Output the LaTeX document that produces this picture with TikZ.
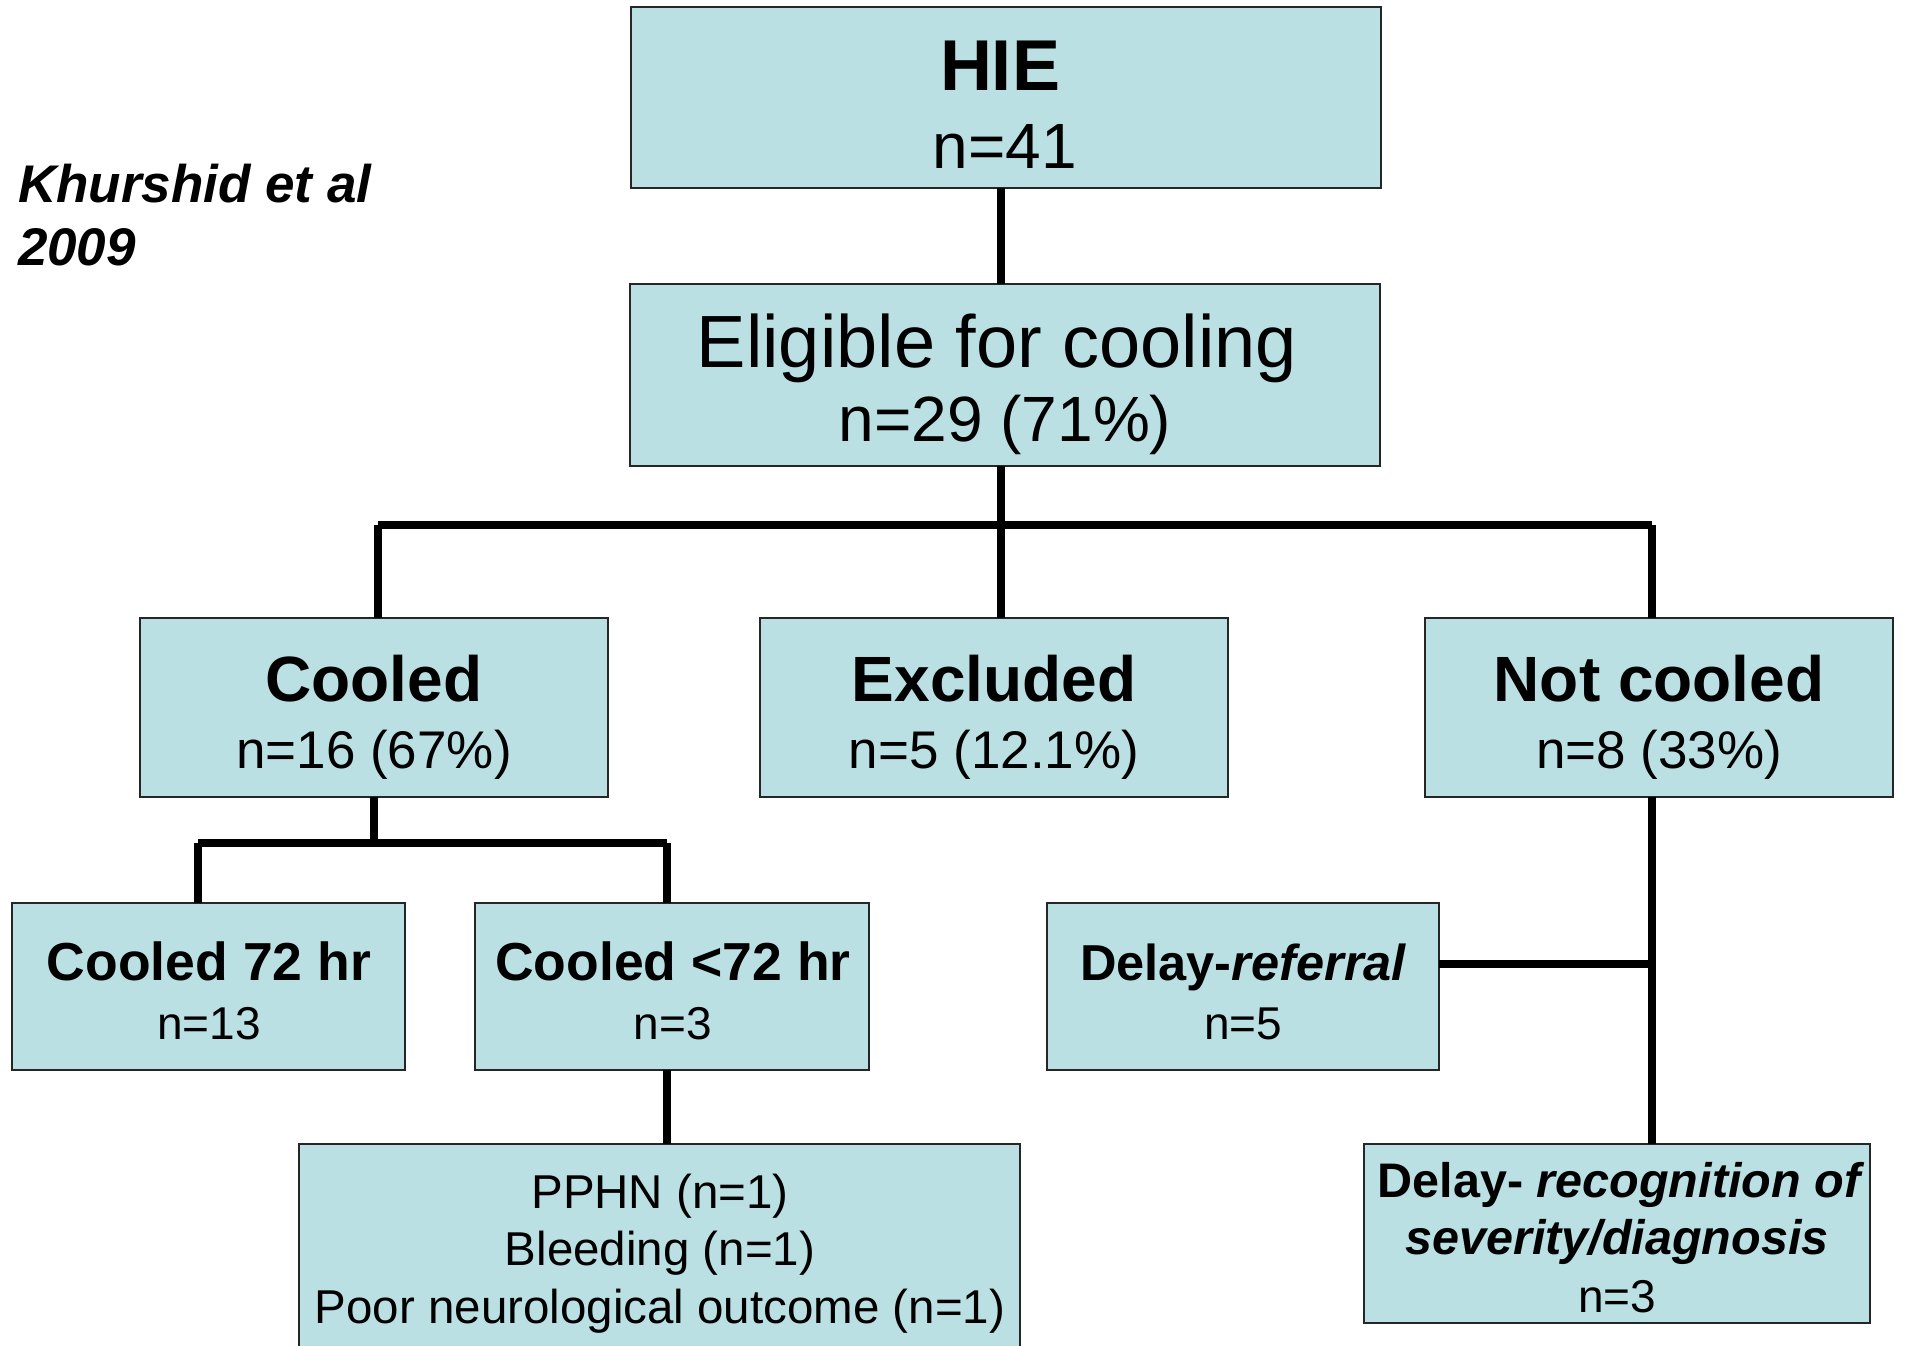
\documentclass[tikz,border=0pt]{standalone}
\usepackage{fontspec}
\setmainfont{Liberation Sans}
\definecolor{boxcol}{RGB}{187,224,227}
\newcommand\setfs[1]{\fontsize{#1}{#1}\selectfont}
\tikzset{
  box/.style={draw=black!85, line width=1.6pt, fill=boxcol, inner sep=0pt, outer sep=0pt},
  conn/.style={draw=black, line width=8pt},
  txt/.style={inner sep=0pt, outer sep=0pt, anchor=base},
}
\begin{document}
\begin{tikzpicture}[x=1pt,y=-1pt]
\useasboundingbox (0,0) rectangle (1906,1345);
\clip (0,0) rectangle (1906,1345);
% boxes
\node[box, minimum width=750pt, minimum height=181pt] (hie) at (1006,97.5) {};
\node[box, minimum width=750pt, minimum height=182pt] (elig) at (1005,375) {};
\node[box, minimum width=468pt, minimum height=179pt] (cooled) at (374,707.5) {};
\node[box, minimum width=468pt, minimum height=179pt] (excl) at (994,707.5) {};
\node[box, minimum width=468pt, minimum height=179pt] (notc) at (1659,707.5) {};
\node[box, minimum width=393pt, minimum height=167pt] (c72) at (208.5,986.5) {};
\node[box, minimum width=394pt, minimum height=167pt] (cl72) at (672,986.5) {};
\node[box, minimum width=721pt, minimum height=230pt] (pphn) at (659.5,1259) {};
\node[box, minimum width=392pt, minimum height=167pt] (dref) at (1243,986.5) {};
\node[box, minimum width=506pt, minimum height=179pt] (drec) at (1617,1233.5) {};
% junction coordinates
\coordinate (jm) at (1001,525);
\coordinate (jl) at (378,525);
\coordinate (jr) at (1652,525);
\coordinate (kc) at (374,843);
\coordinate (kl) at (198,843);
\coordinate (kr) at (667,843);
\coordinate (nr) at (1652,964);
% connectors
\draw[conn] (hie.south -| jm) -- (elig.north -| jm);
\draw[conn] (elig.south -| jm) -- (jm);
\draw[conn] (jl) -- (jr);
\draw[conn] (jl) -- (cooled.north -| jl);
\draw[conn] (jm) -- (excl.north -| jm);
\draw[conn] (jr) -- (notc.north -| jr);
\draw[conn] (cooled.south -| kc) -- (kc);
\draw[conn] (kl) -- (kr);
\draw[conn] (kl) -- (c72.north -| kl);
\draw[conn] (kr) -- (cl72.north -| kr);
\draw[conn] (cl72.south -| kr) -- (pphn.north -| kr);
\draw[conn] (notc.south -| jr) -- (drec.north -| jr);
\draw[conn] (dref.east |- nr) -- (nr);
% texts
\node[txt] (t1) at (1000,90) {\setfs{72}\bfseries HIE};
\node[txt] (t2) at (1005,168) {\setfs{64}n=41};
\node[txt] (t3) at (997,367) {\setfs{74}Eligible for cooling};
\node[txt] (t4) at (1005,441) {\setfs{64}n=29 (71\%)};
\node[txt] (t5) at (374,701) {\setfs{64}\bfseries Cooled};
\node[txt] (t6) at (374,768) {\setfs{53}n=16 (67\%)};
\node[txt] (t7) at (994,701) {\setfs{64}\bfseries Excluded};
\node[txt] (t8) at (994,768) {\setfs{53}n=5 (12.1\%)};
\node[txt] (t9) at (1659,701) {\setfs{64}\bfseries Not cooled};
\node[txt] (t10) at (1659,768) {\setfs{53}n=8 (33\%)};
\node[txt] (t11) at (209,980) {\setfs{53.5}\bfseries Cooled 72 hr};
\node[txt] (t12) at (209,1039) {\setfs{46}n=13};
\node[txt] (t13) at (673,980) {\setfs{53.5}\bfseries Cooled <72 hr};
\node[txt] (t14) at (673,1039) {\setfs{46}n=3};
\node[txt] (t15) at (1243,980) {\setfs{50.5}\bfseries Delay-\itshape referral};
\node[txt] (t16) at (1243,1039) {\setfs{46}n=5};
\node[txt] (t17) at (660,1208) {\setfs{47.5}PPHN (n=1)};
\node[txt] (t18) at (660,1265) {\setfs{47.5}Bleeding (n=1)};
\node[txt] (t19) at (660,1323) {\setfs{47.5}Poor neurological outcome (n=1)};
\node[txt] (t20) at (1619,1197) {\setfs{48.5}\bfseries Delay- \itshape recognition of};
\node[txt] (t21) at (1617,1254) {\setfs{48.5}\bfseries\itshape severity/diagnosis};
\node[txt] (t22) at (1617,1312) {\setfs{46}n=3};
\node[txt, anchor=base west] (k1) at (18,202) {\setfs{53}\bfseries\itshape Khurshid et al};
\node[txt, anchor=base west] (k2) at (18,265) {\setfs{53}\bfseries\itshape 2009};
\end{tikzpicture}
\end{document}
